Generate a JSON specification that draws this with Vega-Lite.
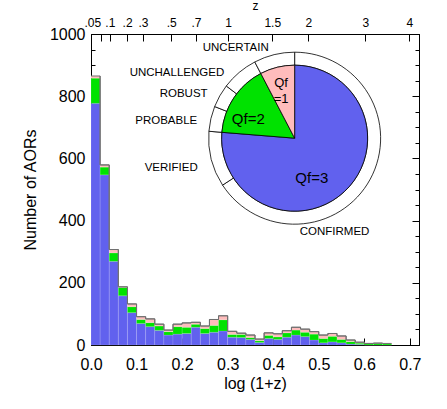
{
  "$schema": "https://vega.github.io/schema/vega-lite/v6.json",
  "width": 328,
  "height": 311,
  "autosize": {"type": "none"},
  "padding": {"left": 91, "top": 34, "right": 28, "bottom": 64},
  "background": "white",
  "config": {
    "view": {"stroke": "black", "strokeWidth": 1},
    "axis": {
      "domainColor": "black", "domainWidth": 1, "tickColor": "black", "tickWidth": 1,
      "labelColor": "black", "titleColor": "black",
      "labelFont": "Liberation Sans", "titleFont": "Liberation Sans",
      "labelFontSize": 16, "titleFontSize": 16, "titleFontWeight": "normal",
      "grid": false, "labelOverlap": false, "labelFlush": false
    },
    "text": {"font": "Liberation Sans", "color": "black"}
  },
  "datasets": {
    "hist": [
      {"bin": 0.00, "bin_end": 0.02, "qf": 3, "count": 777}, {"bin": 0.00, "bin_end": 0.02, "qf": 2, "count": 81}, {"bin": 0.00, "bin_end": 0.02, "qf": 1, "count": 7},
      {"bin": 0.02, "bin_end": 0.04, "qf": 3, "count": 547}, {"bin": 0.02, "bin_end": 0.04, "qf": 2, "count": 25}, {"bin": 0.02, "bin_end": 0.04, "qf": 1, "count": 7},
      {"bin": 0.04, "bin_end": 0.06, "qf": 3, "count": 269}, {"bin": 0.04, "bin_end": 0.06, "qf": 2, "count": 27}, {"bin": 0.04, "bin_end": 0.06, "qf": 1, "count": 11},
      {"bin": 0.06, "bin_end": 0.08, "qf": 3, "count": 158}, {"bin": 0.06, "bin_end": 0.08, "qf": 2, "count": 27}, {"bin": 0.06, "bin_end": 0.08, "qf": 1, "count": 2},
      {"bin": 0.08, "bin_end": 0.10, "qf": 3, "count": 104}, {"bin": 0.08, "bin_end": 0.10, "qf": 2, "count": 19}, {"bin": 0.08, "bin_end": 0.10, "qf": 1, "count": 9},
      {"bin": 0.10, "bin_end": 0.12, "qf": 3, "count": 69}, {"bin": 0.10, "bin_end": 0.12, "qf": 2, "count": 13}, {"bin": 0.10, "bin_end": 0.12, "qf": 1, "count": 9},
      {"bin": 0.12, "bin_end": 0.14, "qf": 3, "count": 59}, {"bin": 0.12, "bin_end": 0.14, "qf": 2, "count": 13}, {"bin": 0.12, "bin_end": 0.14, "qf": 1, "count": 12},
      {"bin": 0.14, "bin_end": 0.16, "qf": 3, "count": 47}, {"bin": 0.14, "bin_end": 0.16, "qf": 2, "count": 14}, {"bin": 0.14, "bin_end": 0.16, "qf": 1, "count": 6},
      {"bin": 0.16, "bin_end": 0.18, "qf": 3, "count": 32}, {"bin": 0.16, "bin_end": 0.18, "qf": 2, "count": 11}, {"bin": 0.16, "bin_end": 0.18, "qf": 1, "count": 5},
      {"bin": 0.18, "bin_end": 0.20, "qf": 3, "count": 35}, {"bin": 0.18, "bin_end": 0.20, "qf": 2, "count": 24}, {"bin": 0.18, "bin_end": 0.20, "qf": 1, "count": 8},
      {"bin": 0.20, "bin_end": 0.22, "qf": 3, "count": 37}, {"bin": 0.20, "bin_end": 0.22, "qf": 2, "count": 20}, {"bin": 0.20, "bin_end": 0.22, "qf": 1, "count": 14},
      {"bin": 0.22, "bin_end": 0.24, "qf": 3, "count": 57}, {"bin": 0.22, "bin_end": 0.24, "qf": 2, "count": 10}, {"bin": 0.22, "bin_end": 0.24, "qf": 1, "count": 6},
      {"bin": 0.24, "bin_end": 0.26, "qf": 3, "count": 37}, {"bin": 0.24, "bin_end": 0.26, "qf": 2, "count": 16}, {"bin": 0.24, "bin_end": 0.26, "qf": 1, "count": 8},
      {"bin": 0.26, "bin_end": 0.28, "qf": 3, "count": 41}, {"bin": 0.26, "bin_end": 0.28, "qf": 2, "count": 22}, {"bin": 0.26, "bin_end": 0.28, "qf": 1, "count": 19},
      {"bin": 0.28, "bin_end": 0.30, "qf": 3, "count": 45}, {"bin": 0.28, "bin_end": 0.30, "qf": 2, "count": 36}, {"bin": 0.28, "bin_end": 0.30, "qf": 1, "count": 13},
      {"bin": 0.30, "bin_end": 0.32, "qf": 3, "count": 25}, {"bin": 0.30, "bin_end": 0.32, "qf": 2, "count": 9}, {"bin": 0.30, "bin_end": 0.32, "qf": 1, "count": 10},
      {"bin": 0.32, "bin_end": 0.34, "qf": 3, "count": 24}, {"bin": 0.32, "bin_end": 0.34, "qf": 2, "count": 10}, {"bin": 0.32, "bin_end": 0.34, "qf": 1, "count": 4},
      {"bin": 0.34, "bin_end": 0.36, "qf": 3, "count": 18}, {"bin": 0.34, "bin_end": 0.36, "qf": 2, "count": 6}, {"bin": 0.34, "bin_end": 0.36, "qf": 1, "count": 8},
      {"bin": 0.36, "bin_end": 0.38, "qf": 3, "count": 8}, {"bin": 0.36, "bin_end": 0.38, "qf": 2, "count": 6}, {"bin": 0.36, "bin_end": 0.38, "qf": 1, "count": 5},
      {"bin": 0.38, "bin_end": 0.40, "qf": 3, "count": 21}, {"bin": 0.38, "bin_end": 0.40, "qf": 2, "count": 10}, {"bin": 0.38, "bin_end": 0.40, "qf": 1, "count": 8},
      {"bin": 0.40, "bin_end": 0.42, "qf": 3, "count": 18}, {"bin": 0.40, "bin_end": 0.42, "qf": 2, "count": 8}, {"bin": 0.40, "bin_end": 0.42, "qf": 1, "count": 10},
      {"bin": 0.42, "bin_end": 0.44, "qf": 3, "count": 25}, {"bin": 0.42, "bin_end": 0.44, "qf": 2, "count": 14}, {"bin": 0.42, "bin_end": 0.44, "qf": 1, "count": 7},
      {"bin": 0.44, "bin_end": 0.46, "qf": 3, "count": 32}, {"bin": 0.44, "bin_end": 0.46, "qf": 2, "count": 16}, {"bin": 0.44, "bin_end": 0.46, "qf": 1, "count": 9},
      {"bin": 0.46, "bin_end": 0.48, "qf": 3, "count": 27}, {"bin": 0.46, "bin_end": 0.48, "qf": 2, "count": 14}, {"bin": 0.46, "bin_end": 0.48, "qf": 1, "count": 10},
      {"bin": 0.48, "bin_end": 0.50, "qf": 3, "count": 16}, {"bin": 0.48, "bin_end": 0.50, "qf": 2, "count": 19}, {"bin": 0.48, "bin_end": 0.50, "qf": 1, "count": 8},
      {"bin": 0.50, "bin_end": 0.52, "qf": 3, "count": 7}, {"bin": 0.50, "bin_end": 0.52, "qf": 2, "count": 14}, {"bin": 0.50, "bin_end": 0.52, "qf": 1, "count": 11},
      {"bin": 0.52, "bin_end": 0.54, "qf": 3, "count": 10}, {"bin": 0.52, "bin_end": 0.54, "qf": 2, "count": 18}, {"bin": 0.52, "bin_end": 0.54, "qf": 1, "count": 9},
      {"bin": 0.54, "bin_end": 0.56, "qf": 3, "count": 7}, {"bin": 0.54, "bin_end": 0.56, "qf": 2, "count": 11}, {"bin": 0.54, "bin_end": 0.56, "qf": 1, "count": 11},
      {"bin": 0.56, "bin_end": 0.58, "qf": 3, "count": 3}, {"bin": 0.56, "bin_end": 0.58, "qf": 2, "count": 8}, {"bin": 0.56, "bin_end": 0.58, "qf": 1, "count": 5},
      {"bin": 0.58, "bin_end": 0.60, "qf": 3, "count": 2}, {"bin": 0.58, "bin_end": 0.60, "qf": 2, "count": 4}, {"bin": 0.58, "bin_end": 0.60, "qf": 1, "count": 3},
      {"bin": 0.60, "bin_end": 0.62, "qf": 3, "count": 0}, {"bin": 0.60, "bin_end": 0.62, "qf": 2, "count": 4}, {"bin": 0.60, "bin_end": 0.62, "qf": 1, "count": 1},
      {"bin": 0.62, "bin_end": 0.64, "qf": 3, "count": 0}, {"bin": 0.62, "bin_end": 0.64, "qf": 2, "count": 5}, {"bin": 0.62, "bin_end": 0.64, "qf": 1, "count": 1},
      {"bin": 0.64, "bin_end": 0.66, "qf": 3, "count": 0}, {"bin": 0.64, "bin_end": 0.66, "qf": 2, "count": 4}, {"bin": 0.64, "bin_end": 0.66, "qf": 1, "count": 1}
    ],
    "pie": [
      {"qf": 3, "n": 2557, "label": "Qf=3"},
      {"qf": 2, "n": 538, "label": "Qf=2"},
      {"qf": 1, "n": 257, "label": "Qf\n=1"}
    ],
    "ring": [
      {"idx": 1, "status": "CONFIRMED", "n": 2206},
      {"idx": 2, "status": "VERIFIED", "n": 351},
      {"idx": 3, "status": "PROBABLE", "n": 158},
      {"idx": 4, "status": "ROBUST", "n": 147},
      {"idx": 5, "status": "UNCHALLENGED", "n": 233},
      {"idx": 6, "status": "UNCERTAIN", "n": 257}
    ]
  },
  "resolve": {"axis": {"x": "independent", "y": "independent"}},
  "layer": [
    {
      "data": {"name": "hist"},
      "transform": [{"stack": "count", "groupby": ["bin"], "sort": [{"field": "qf", "order": "descending"}], "as": ["y0", "y1"]}],
      "mark": {"type": "bar", "stroke": "white", "strokeOpacity": 0.25, "strokeWidth": 0.5},
      "encoding": {
        "x": {
          "field": "bin", "type": "quantitative",
          "scale": {"domain": [0, 0.72], "nice": false, "zero": true},
          "axis": {"orient": "bottom", "title": "log (1+z)", "values": [0, 0.1, 0.2, 0.3, 0.4, 0.5, 0.6, 0.7], "format": ".1f", "tickSize": -7, "labelPadding": 18, "titlePadding": 3}
        },
        "x2": {"field": "bin_end"},
        "y": {
          "field": "y0", "type": "quantitative",
          "scale": {"domain": [0, 1000], "nice": false},
          "axis": {
            "orient": "left", "title": "Number of AORs", "format": "d",
            "values": [0, 50, 100, 150, 200, 250, 300, 350, 400, 450, 500, 550, 600, 650, 700, 750, 800, 850, 900, 950, 1000],
            "labelExpr": "datum.value % 200 === 0 ? datum.label : ''",
            "tickSize": {"condition": {"test": "datum.value % 200 === 0", "value": -8}, "value": -4},
            "labelPadding": 14, "titlePadding": 11
          }
        },
        "y2": {"field": "y1"},
        "color": {"field": "qf", "type": "nominal", "scale": {"domain": [3, 2, 1], "range": ["#6161ee", "#00e200", "#ffbcbc"]}, "legend": null}
      }
    },
    {
      "data": {"name": "hist"},
      "transform": [{"aggregate": [{"op": "sum", "field": "count", "as": "total"}], "groupby": ["bin", "bin_end"]}],
      "mark": {"type": "line", "interpolate": "step-after", "color": "#707070", "strokeWidth": 1},
      "encoding": {
        "x": {
          "field": "bin", "type": "quantitative",
          "axis": {
            "orient": "top", "title": "z",
            "values": [0.021189, 0.041393, 0.079181, 0.113943, 0.176091, 0.230449, 0.30103, 0.39794, 0.477121, 0.60206, 0.69897],
            "labelExpr": "replace(format(pow(10, datum.value) - 1, '.2~f'), '0.', '.')",
            "labelAlign": {"condition": {"test": "datum.value < 0.03", "value": "right"}, "value": "center"},
            "tickSize": -7, "labelPadding": 12, "labelFontSize": 12, "titleFontSize": 12, "titlePadding": 4
          }
        },
        "y": {"field": "total", "type": "quantitative", "axis": null}
      }
    },
    {
      "data": {"name": "hist"},
      "transform": [{"aggregate": [{"op": "sum", "field": "count", "as": "total"}], "groupby": ["bin", "bin_end"]}],
      "mark": {"type": "line", "interpolate": "step-before", "color": "#707070", "strokeWidth": 1},
      "encoding": {
        "x": {"field": "bin_end", "type": "quantitative", "axis": null},
        "y": {
          "field": "total", "type": "quantitative",
          "axis": {
            "orient": "right", "title": null, "labels": false,
            "values": [0, 50, 100, 150, 200, 250, 300, 350, 400, 450, 500, 550, 600, 650, 700, 750, 800, 850, 900, 950, 1000],
            "tickSize": {"condition": {"test": "datum.value % 200 === 0", "value": -7}, "value": -4}
          }
        }
      }
    },
    {
      "data": {"name": "ring"},
      "mark": {"type": "arc", "innerRadius": 73, "outerRadius": 86, "fill": "white", "stroke": "black", "strokeWidth": 0.8},
      "encoding": {
        "theta": {"field": "n", "type": "quantitative", "stack": true},
        "detail": {"field": "status", "type": "nominal"},
        "order": {"field": "idx", "type": "quantitative", "sort": "ascending"},
        "x": {"datum": 0.447, "type": "quantitative", "axis": null},
        "y": {"datum": 665, "type": "quantitative", "axis": null}
      }
    },
    {
      "data": {"name": "pie"},
      "mark": {"type": "arc", "outerRadius": 73, "stroke": "black", "strokeWidth": 0.8},
      "encoding": {
        "theta": {"field": "n", "type": "quantitative", "stack": true},
        "color": {"field": "qf", "type": "nominal", "legend": null},
        "order": {"field": "qf", "type": "quantitative", "sort": "descending"},
        "x": {"datum": 0.447, "type": "quantitative", "axis": null},
        "y": {"datum": 665, "type": "quantitative", "axis": null}
      }
    },
    {
      "data": {"name": "pie"},
      "mark": {"type": "text", "radius": 46, "fontSize": 15, "align": "center", "baseline": "middle", "dx": -14, "dy": 6},
      "encoding": {
        "theta": {"field": "n", "type": "quantitative", "stack": true},
        "detail": {"field": "qf", "type": "nominal"},
        "order": {"field": "qf", "type": "quantitative", "sort": "descending"},
        "text": {"condition": {"test": "datum.qf === 3", "field": "label", "type": "nominal"}, "value": ""},
        "x": {"datum": 0.447, "type": "quantitative", "axis": null},
        "y": {"datum": 665, "type": "quantitative", "axis": null}
      }
    },
    {
      "data": {"name": "pie"},
      "mark": {"type": "text", "radius": 46, "fontSize": 15, "align": "center", "baseline": "middle", "dx": -8, "dy": 6},
      "encoding": {
        "theta": {"field": "n", "type": "quantitative", "stack": true},
        "detail": {"field": "qf", "type": "nominal"},
        "order": {"field": "qf", "type": "quantitative", "sort": "descending"},
        "text": {"condition": {"test": "datum.qf === 2", "field": "label", "type": "nominal"}, "value": ""},
        "x": {"datum": 0.447, "type": "quantitative", "axis": null},
        "y": {"datum": 665, "type": "quantitative", "axis": null}
      }
    },
    {
      "data": {"name": "pie"},
      "mark": {"type": "text", "radius": 57, "fontSize": 13, "lineBreak": "\n", "lineHeight": 16, "align": "center", "baseline": "middle"},
      "encoding": {
        "theta": {"field": "n", "type": "quantitative", "stack": true},
        "detail": {"field": "qf", "type": "nominal"},
        "order": {"field": "qf", "type": "quantitative", "sort": "descending"},
        "text": {"condition": {"test": "datum.qf === 1", "field": "label", "type": "nominal"}, "value": ""},
        "x": {"datum": 0.447, "type": "quantitative", "axis": null},
        "y": {"datum": 665, "type": "quantitative", "axis": null}
      }
    },
    {
      "data": {"name": "ring"},
      "mark": {"type": "text", "radius": 100, "fontSize": 11.5, "align": "right", "baseline": "middle", "dy": 5},
      "encoding": {
        "theta": {"field": "n", "type": "quantitative", "stack": true},
        "detail": {"field": "status", "type": "nominal"},
        "order": {"field": "idx", "type": "quantitative", "sort": "ascending"},
        "text": {"condition": {"test": "indexof(['VERIFIED','PROBABLE','ROBUST'], datum.status) >= 0", "field": "status", "type": "nominal"}, "value": ""},
        "x": {"datum": 0.447, "type": "quantitative", "axis": null},
        "y": {"datum": 665, "type": "quantitative", "axis": null}
      }
    },
    {
      "data": {"name": "ring"},
      "mark": {"type": "text", "radius": 100, "fontSize": 11.5, "align": "right", "baseline": "middle", "dx": -6, "dy": 11},
      "encoding": {
        "theta": {"field": "n", "type": "quantitative", "stack": true},
        "detail": {"field": "status", "type": "nominal"},
        "order": {"field": "idx", "type": "quantitative", "sort": "ascending"},
        "text": {"condition": {"test": "datum.status === 'UNCHALLENGED'", "field": "status", "type": "nominal"}, "value": ""},
        "x": {"datum": 0.447, "type": "quantitative", "axis": null},
        "y": {"datum": 665, "type": "quantitative", "axis": null}
      }
    },
    {
      "data": {"name": "ring"},
      "mark": {"type": "text", "radius": 100, "fontSize": 11.5, "align": "center", "baseline": "middle", "dx": -35, "dy": 7},
      "encoding": {
        "theta": {"field": "n", "type": "quantitative", "stack": true},
        "detail": {"field": "status", "type": "nominal"},
        "order": {"field": "idx", "type": "quantitative", "sort": "ascending"},
        "text": {"condition": {"test": "datum.status === 'UNCERTAIN'", "field": "status", "type": "nominal"}, "value": ""},
        "x": {"datum": 0.447, "type": "quantitative", "axis": null},
        "y": {"datum": 665, "type": "quantitative", "axis": null}
      }
    },
    {
      "data": {"name": "ring"},
      "mark": {"type": "text", "radius": 100, "fontSize": 11.5, "align": "center", "baseline": "middle", "dx": -48, "dy": 46},
      "encoding": {
        "theta": {"field": "n", "type": "quantitative", "stack": true},
        "detail": {"field": "status", "type": "nominal"},
        "order": {"field": "idx", "type": "quantitative", "sort": "ascending"},
        "text": {"condition": {"test": "datum.status === 'CONFIRMED'", "field": "status", "type": "nominal"}, "value": ""},
        "x": {"datum": 0.447, "type": "quantitative", "axis": null},
        "y": {"datum": 665, "type": "quantitative", "axis": null}
      }
    }
  ]
}
